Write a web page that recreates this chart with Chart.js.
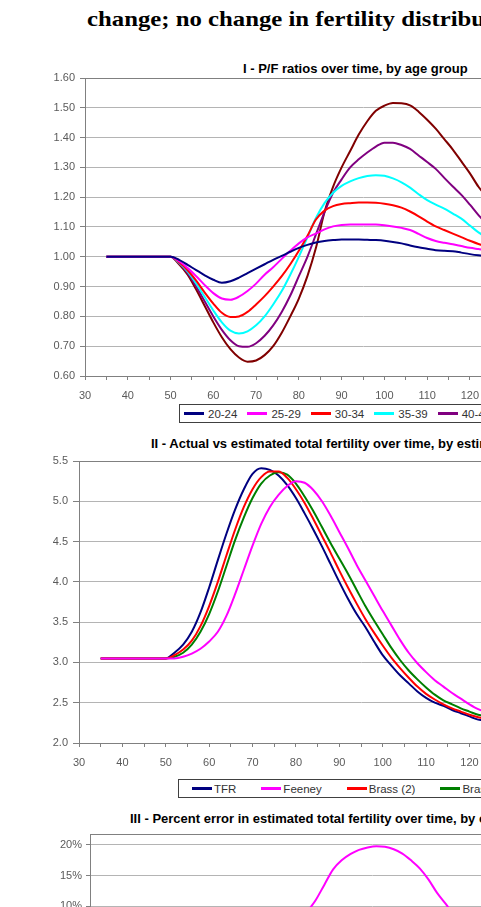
<!DOCTYPE html>
<html>
<head>
<meta charset="utf-8">
<script src="https://cdn.jsdelivr.net/npm/chart.js@4.4.1/dist/chart.umd.min.js"></script>
<style>
html, body { margin: 0; padding: 0; background: #fff; }
#page { position: relative; width: 481px; height: 907px; overflow: hidden; background: #fff; font-family: "Liberation Sans", Arial, sans-serif; }
.head { position: absolute; left: 87px; top: 7px; font: bold 22px/24px "Liberation Serif", "Times New Roman", serif; white-space: nowrap; transform: scaleX(1.125); transform-origin: 0 0; color: #000; }
.ttl { position: absolute; font-weight: bold; font-size: 13px; line-height: 15px; white-space: nowrap; color: #000; }
.plot { position: absolute; left: 0; }
.lgd { position: absolute; border: 1px solid #404040; height: 17px; display: flex; align-items: center; white-space: nowrap; font-size: 11.5px; color: #333; background: #fff; }
.lgd .it { display: flex; align-items: center; }
.lgd i { display: inline-block; width: 20px; height: 3px; }
</style>
</head>
<body>
<div id="page">
  <div class="head">change; no change in fertility distribution</div>

  <div class="ttl" style="left:243px;top:61px">I - P/F ratios over time, by age group</div>
  <div class="plot" style="top:73px;width:660px;height:327px"><canvas id="c1" width="660" height="327"></canvas></div>
  <div class="lgd" id="lg1" style="left:179px;top:404px;width:440px;padding-left:4px"></div>

  <div class="ttl" style="left:151px;top:436px">II - Actual vs estimated total fertility over time, by estimation method</div>
  <div class="plot" style="top:456px;width:660px;height:311px"><canvas id="c2" width="660" height="311"></canvas></div>
  <div class="lgd" id="lg2" style="left:178px;top:779px;width:440px;padding-left:13px"></div>

  <div class="ttl" style="left:130px;top:811px">III - Percent error in estimated total fertility over time, by estimation method</div>
  <div class="plot" style="top:829px;width:670px;height:347px"><canvas id="c3" width="670" height="347"></canvas></div>
</div>
<script>
// years (x values), shared by all three panels
const years = [35, 50, 52, 54, 56, 58, 60, 62, 64, 66, 68, 70, 72, 74, 76, 78, 80, 82, 84, 86, 88, 90,
  92, 94, 96, 98, 100, 102, 104, 106, 108, 110, 112, 114, 116, 118, 120, 122, 124, 126, 128, 130];

// Panel I - P/F ratios by age group
const ageGroups = ['20-24', '25-29', '30-34', '35-39', '40-44', '45-49'];
const pf2024 = [1.000, 1.000, 0.990, 0.973, 0.955, 0.938, 0.923, 0.913, 0.918, 0.930, 0.945, 0.960, 0.975, 0.990,
  1.003, 1.017, 1.030, 1.040, 1.048, 1.053, 1.056, 1.058, 1.058, 1.058, 1.057, 1.056, 1.054, 1.050, 1.045, 1.038,
  1.032, 1.027, 1.022, 1.020, 1.019, 1.014, 1.009, 1.005, 1.002, 1.000, 0.998, 0.996];
const pf2529 = [1.000, 1.000, 0.985, 0.962, 0.935, 0.905, 0.878, 0.860, 0.856, 0.866, 0.885, 0.910, 0.940, 0.965,
  0.993, 1.020, 1.045, 1.065, 1.078, 1.092, 1.102, 1.107, 1.108, 1.108, 1.108, 1.108, 1.106, 1.102, 1.097, 1.090,
  1.077, 1.063, 1.053, 1.047, 1.042, 1.036, 1.030, 1.026, 1.022, 1.019, 1.016, 1.013];
const pf3034 = [1.000, 1.000, 0.982, 0.955, 0.920, 0.880, 0.843, 0.812, 0.798, 0.800, 0.815, 0.840, 0.868, 0.900,
  0.935, 0.975, 1.020, 1.070, 1.125, 1.155, 1.170, 1.177, 1.180, 1.182, 1.182, 1.181, 1.178, 1.173, 1.165, 1.152,
  1.136, 1.118, 1.102, 1.090, 1.078, 1.066, 1.054, 1.043, 1.035, 1.027, 1.020, 1.013];
const pf3539 = [1.000, 1.000, 0.980, 0.950, 0.910, 0.865, 0.820, 0.780, 0.752, 0.743, 0.750, 0.770, 0.800, 0.840,
  0.885, 0.940, 1.000, 1.065, 1.130, 1.180, 1.215, 1.238, 1.253, 1.264, 1.271, 1.274, 1.272, 1.263, 1.250, 1.232,
  1.210, 1.190, 1.175, 1.162, 1.145, 1.128, 1.105, 1.082, 1.065, 1.050, 1.040, 1.030];
const pf4044 = [1.000, 1.000, 0.978, 0.945, 0.900, 0.850, 0.800, 0.755, 0.720, 0.700, 0.698, 0.710, 0.735, 0.770,
  0.815, 0.870, 0.935, 1.000, 1.075, 1.150, 1.215, 1.260, 1.300, 1.327, 1.350, 1.370, 1.383, 1.383, 1.375, 1.362,
  1.340, 1.318, 1.295, 1.265, 1.236, 1.208, 1.175, 1.140, 1.110, 1.085, 1.065, 1.050];
const pf4549 = [1.000, 1.000, 0.975, 0.940, 0.890, 0.835, 0.780, 0.730, 0.690, 0.662, 0.648, 0.652, 0.670, 0.700,
  0.745, 0.800, 0.860, 0.935, 1.030, 1.150, 1.235, 1.300, 1.355, 1.410, 1.455, 1.490, 1.507, 1.516, 1.515, 1.508,
  1.487, 1.460, 1.430, 1.395, 1.360, 1.320, 1.280, 1.235, 1.200, 1.170, 1.145, 1.120];
const ageColors = ['#000080', '#ff00ff', '#ff0000', '#00ffff', '#800080', '#800000'];

// Panel II - actual vs estimated TFR
const methods = ['TFR', 'Feeney', 'Brass (2)', 'Brass (3)'];
const tfr = [3.05, 3.05, 3.12, 3.22, 3.38, 3.62, 3.93, 4.27, 4.60, 4.90, 5.15, 5.34, 5.41, 5.39, 5.32, 5.20, 5.04,
  4.85, 4.65, 4.44, 4.22, 4.00, 3.79, 3.60, 3.44, 3.26, 3.09, 2.96, 2.84, 2.74, 2.64, 2.56, 2.50, 2.46, 2.41, 2.37,
  2.33, 2.29, 2.28, 2.27, 2.27, 2.27];
const feeney = [3.05, 3.05, 3.05, 3.07, 3.11, 3.17, 3.26, 3.38, 3.58, 3.85, 4.15, 4.45, 4.72, 4.93, 5.08, 5.19, 5.25,
  5.23, 5.14, 5.00, 4.82, 4.62, 4.42, 4.21, 4.02, 3.83, 3.64, 3.46, 3.28, 3.12, 2.99, 2.88, 2.78, 2.70, 2.62, 2.55,
  2.48, 2.42, 2.38, 2.35, 2.32, 2.30];
const brass2 = [3.05, 3.05, 3.09, 3.16, 3.27, 3.45, 3.70, 4.00, 4.33, 4.65, 4.93, 5.15, 5.30, 5.37, 5.37, 5.29, 5.15,
  4.98, 4.78, 4.57, 4.36, 4.14, 3.93, 3.73, 3.54, 3.37, 3.21, 3.06, 2.93, 2.81, 2.70, 2.61, 2.54, 2.48, 2.43, 2.39,
  2.35, 2.32, 2.30, 2.28, 2.27, 2.27];
const brass3 = [3.05, 3.05, 3.07, 3.12, 3.22, 3.38, 3.60, 3.88, 4.20, 4.52, 4.80, 5.04, 5.22, 5.32, 5.36, 5.33, 5.22,
  5.06, 4.88, 4.68, 4.48, 4.29, 4.10, 3.90, 3.70, 3.52, 3.35, 3.18, 3.03, 2.90, 2.79, 2.69, 2.60, 2.53, 2.48, 2.43,
  2.39, 2.35, 2.33, 2.31, 2.30, 2.29];
const methodColors = ['#000080', '#ff00ff', '#ff0000', '#008000'];

// Panel III - percent error of Feeney estimate
const errFeeney = [0, 0, -0.02, -0.045, -0.08, -0.125, -0.17, -0.2, -0.22, -0.2, -0.16, -0.11, -0.05, 0.0, 0.035,
  0.065, 0.09, 0.11, 0.135, 0.16, 0.175, 0.185, 0.192, 0.196, 0.198, 0.197, 0.193, 0.186, 0.175, 0.162, 0.144,
  0.122, 0.104, 0.085, 0.07, 0.055, 0.045, 0.04, 0.04, 0.035, 0.03, 0.025];

const pts = vals => years.map((x, i) => ({ x: x, y: vals[i] }));

// grey frame round the plot area, like Excel
const frame = {
  id: 'frame',
  beforeDatasetsDraw(chart) {
    const a = chart.chartArea, c = chart.ctx;
    c.save();
    c.strokeStyle = '#808080';
    c.lineWidth = 1;
    c.strokeRect(Math.round(a.left) + 0.5, Math.round(a.top) + 0.5, Math.round(a.right - a.left), Math.round(a.bottom - a.top));
    c.restore();
  }
};

const tickFont = { family: '"Liberation Sans", Arial, sans-serif', size: 11 };

function makeChart(id, sets, o) {
  return new Chart(document.getElementById(id), {
    type: 'line',
    data: { datasets: sets },
    options: {
      responsive: false,
      animation: false,
      layout: { padding: { top: 5, right: o.right, left: 0, bottom: 0 } },
      plugins: { legend: { display: false }, title: { display: false }, tooltip: { enabled: false } },
      elements: { point: { radius: 0 }, line: { borderWidth: 2, cubicInterpolationMode: 'monotone' } },
      scales: {
        x: {
          type: 'linear', min: 30, max: 160,
          afterFit: s => { s.height = 24; s.paddingLeft = 0; s.paddingRight = 0; },
          grid: { drawOnChartArea: false, tickLength: 4, tickColor: '#808080' },
          border: { color: '#808080' },
          ticks: {
            stepSize: 5, autoSkip: false, maxRotation: 0, padding: 9, color: '#5a5a5a', font: tickFont,
            callback: v => (v % 10 === 0 ? String(v) : '')
          }
        },
        y: {
          min: o.min, max: o.max,
          afterFit: s => { s.width = o.left; s.paddingTop = 0; s.paddingBottom = 0; },
          grid: { color: '#b4b4b4', tickLength: o.tl, tickColor: '#808080' },
          border: { color: '#808080' },
          ticks: { stepSize: o.step, includeBounds: false, padding: o.pad, color: '#5a5a5a', font: tickFont, callback: o.fmt }
        }
      }
    },
    plugins: [frame]
  });
}

function legend(id, names, colors, gap, textGap) {
  const el = document.getElementById(id);
  el.style.gap = gap + 'px';
  names.forEach((n, i) => {
    const it = document.createElement('span');
    it.className = 'it';
    it.innerHTML = '<i style="background:' + colors[i] + '"></i><span style="margin-left:' + textGap + 'px">' + n + '</span>';
    el.appendChild(it);
  });
}

const pfSeries = [pf2024, pf2529, pf3034, pf3539, pf4044, pf4549];
makeChart('c1', pfSeries.map((s, i) => ({
  label: ageGroups[i], data: pts(s), borderColor: ageColors[i], backgroundColor: ageColors[i]
})), { right: 19, left: 85, min: 0.6, max: 1.6, step: 0.1, tl: 5, pad: 5, fmt: v => v.toFixed(2) });
legend('lg1', ageGroups, ageColors, 10, 4);

const tfrSeries = [tfr, feeney, brass2, brass3];
// draw TFR on top
const order2 = [1, 2, 3, 0];
makeChart('c2', order2.map(i => ({
  label: methods[i], data: pts(tfrSeries[i]), borderColor: methodColors[i], backgroundColor: methodColors[i]
})), { right: 17, left: 79, min: 2, max: 5.5, step: 0.5, tl: 6, pad: 5, fmt: v => v.toFixed(1) });
legend('lg2', methods, methodColors, 25, 2);

makeChart('c3', [{
  label: 'Feeney', data: pts(errFeeney), borderColor: '#ff00ff', backgroundColor: '#ff00ff'
}], { right: 16, left: 90, min: -0.3, max: 0.2179, step: 0.05, tl: 4, pad: 4, fmt: v => Math.round(v * 100) + '%' });
</script>
</body>
</html>
